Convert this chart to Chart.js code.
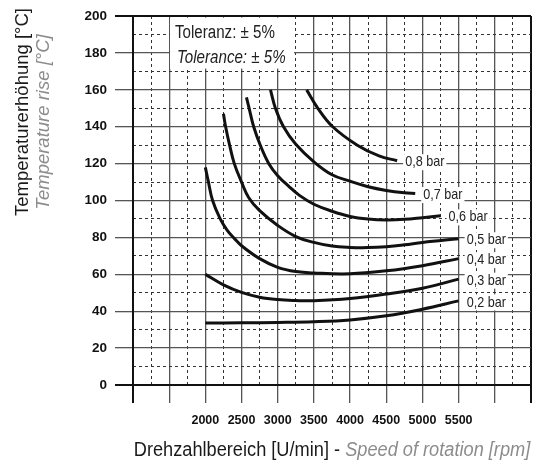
<!DOCTYPE html>
<html>
<head>
<meta charset="utf-8">
<script src="https://cdn.jsdelivr.net/npm/chart.js@4.4.1/dist/chart.umd.min.js"></script>
<style>
    body { margin: 0; background: #fff; }
    #wrap { width: 541px; height: 464px; }
</style>
</head>
<body>
<div id="wrap"><canvas id="myChart" width="541" height="464"></canvas></div>
<script>
// values (rpm -> temperature rise in °C)
const pressureLabels = ['0,2 bar', '0,3 bar', '0,4 bar', '0,5 bar', '0,6 bar', '0,7 bar', '0,8 bar'];

const rpm02 = [2000, 2500, 3000, 3500, 4000, 4500, 5000, 5500];
const temp02 = [33.6, 33.7, 33.9, 34.3, 35.3, 37.5, 41.1, 45.6];

const rpm03 = [2000, 2250, 2500, 2750, 3000, 3250, 3500, 4000, 4500, 5000, 5500];
const temp03 = [60, 54.3, 50.2, 47.6, 46.3, 45.8, 45.7, 46.9, 49.3, 52.5, 57.4];

const rpm04 = [2000, 2040, 2100, 2200, 2300, 2400, 2500, 2750, 3000, 3250, 3500, 4000, 4500, 5000, 5500];
const temp04 = [118, 110.5, 100, 90.5, 84, 79.5, 75.5, 68.5, 63.8, 61.5, 60.7, 60.3, 61.9, 64.7, 68.5];

const rpm05 = [2250, 2280, 2335, 2400, 2500, 2600, 2750, 3000, 3250, 3500, 3750, 4000, 4250, 4500, 4750, 5000, 5500];
const temp05 = [147, 140, 130, 120, 110, 101.5, 94.5, 86.5, 80.5, 77.3, 75.3, 74.6, 74.5, 75, 76, 77.3, 79.3];

const rpm06 = [2568, 2605, 2668, 2759, 2877, 3000, 3150, 3300, 3500, 3750, 4000, 4250, 4500, 4750, 5000, 5250];
const temp06 = [155.9, 150, 140, 130, 120, 113.5, 107.8, 102.8, 98, 94.2, 91.4, 90, 89.5, 89.8, 90.7, 91.7];

const rpm07 = [2900, 2968, 3080, 3250, 3500, 3750, 4000, 4250, 4500, 4750, 4900];
const temp07 = [160, 150, 140, 130.5, 121, 114, 110.5, 107.5, 105.5, 104.2, 103.8];

const rpm08 = [3400, 3555, 3760, 4100, 4400, 4650];
const temp08 = [160, 150, 140, 130, 124.2, 121.6];

const xTickLabels = [2000, 2500, 3000, 3500, 4000, 4500, 5000, 5500];
const yTickLabels = [0, 20, 40, 60, 80, 100, 120, 140, 160, 180, 200];

const SANS = '"Liberation Sans", Arial, sans-serif';

function toPoints(xs, ys) {
    return xs.map((x, i) => ({ x: x, y: ys[i] }));
}

// the original uses a condensed face: squeeze Liberation Sans horizontally
function narrowText(ctx, text, x, y, font, color, sx, rotated, align) {
    ctx.save();
    ctx.translate(x, y);
    if (rotated) ctx.rotate(-Math.PI / 2);
    ctx.scale(sx, 1);
    ctx.font = font;
    ctx.fillStyle = color;
    ctx.textAlign = align || 'left';
    ctx.fillText(text, 0, 0);
    ctx.restore();
}

function narrowWidth(ctx, text, font, sx) {
    ctx.save();
    ctx.font = font;
    const w = ctx.measureText(text).width * sx;
    ctx.restore();
    return w;
}

const series = [
    [rpm02, temp02], [rpm03, temp03], [rpm04, temp04], [rpm05, temp05],
    [rpm06, temp06], [rpm07, temp07], [rpm08, temp08]
];

let LineData = {
    datasets: series.map((s, i) => ({
        label: pressureLabels[i],
        data: toPoints(s[0], s[1]),
        borderColor: '#111',
        borderWidth: 3,
        pointRadius: 0,
        fill: false,
        tension: 0.4,
        xAxisID: 'x',
        yAxisID: 'y'
    }))
};

const annotations = {
    id: 'annotations',
    beforeDatasetsDraw(chart) {
        const { ctx, chartArea } = chart;
        ctx.save();
        ctx.fillStyle = '#fff';
        ctx.fillRect(chartArea.left + 37, chartArea.top + 1.5, 124, 51);
        ctx.textBaseline = 'middle';
        narrowText(ctx, 'Toleranz: ± 5%', chartArea.left + 42, chartArea.top + 17, '18px ' + SANS, '#222', 0.84);
        narrowText(ctx, 'Tolerance: ± 5%', chartArea.left + 44, chartArea.top + 42, 'italic 18px ' + SANS, '#222', 0.84);
        ctx.restore();
    },
    afterDatasetsDraw(chart) {
        const ctx = chart.ctx;
        const font = '15px ' + SANS;
        ctx.save();
        ctx.textBaseline = 'middle';
        chart.data.datasets.forEach((ds, i) => {
            const meta = chart.getDatasetMeta(i);
            const last = meta.data[meta.data.length - 1];
            const w = narrowWidth(ctx, ds.label, font, 0.84);
            const x = last.x + 8;
            const y = last.y + 1.5;
            ctx.fillStyle = '#fff';
            ctx.fillRect(x - 2, y - 8, w + 4, 16);
            narrowText(ctx, ds.label, x, y, font, '#222', 0.84);
        });
        ctx.restore();
    },
    afterDraw(chart) {
        const { ctx, chartArea } = chart;
        ctx.save();
        ctx.textBaseline = 'alphabetic';
        // y axis title, two lines
        narrowText(ctx, 'Temperaturerhöhung [°C]', 28, 112, '18.5px ' + SANS, '#1a1a1a', 1, true, 'center');
        narrowText(ctx, 'Temperature rise [°C]', 48.5, 122, 'italic 18.5px ' + SANS, '#8c8c8c', 1, true, 'center');

        // x axis title, black + grey italic
        const part1 = 'Drehzahlbereich [U/min] - ';
        const part2 = 'Speed of rotation [rpm]';
        const f1 = '20px ' + SANS;
        const f2 = 'italic 20px ' + SANS;
        const w1 = narrowWidth(ctx, part1, f1, 0.91);
        const w2 = narrowWidth(ctx, part2, f2, 0.91);
        const startX = (chartArea.left + chartArea.right) / 2 - (w1 + w2) / 2;
        narrowText(ctx, part1, startX, 456, f1, '#1a1a1a', 0.91);
        narrowText(ctx, part2, startX + w1, 456, f2, '#8c8c8c', 0.91);
        ctx.restore();
    }
};

let canvas = document.getElementById('myChart');
let ctx = canvas.getContext('2d');

let myChart = new Chart(ctx, {
    type: 'line',
    data: LineData,
    plugins: [annotations],
    options: {
        responsive: false,
        animation: false,
        layout: {
            padding: { top: 16, right: 9, left: 0, bottom: 0 }
        },
        scales: {
            x: {
                type: 'linear',
                position: 'bottom',
                min: 1000,
                max: 6500,
                afterFit: (scale) => { scale.height = 79; },
                ticks: {
                    stepSize: 500,
                    autoSkip: false,
                    maxRotation: 0,
                    padding: 10,
                    color: '#111',
                    font: { size: 12.5, weight: 'bold', family: SANS },
                    callback: (value) => xTickLabels.includes(value) ? String(value) : ''
                },
                grid: {
                    color: (c) => (c.tick && (c.tick.value === 1000 || c.tick.value === 6500)) ? '#111' : '#555',
                    lineWidth: (c) => (c.tick && (c.tick.value === 1000 || c.tick.value === 6500)) ? 2 : 1.3,
                    tickLength: 18
                },
                border: { color: '#111', width: 2 }
            },
            x2: {
                type: 'linear',
                position: 'top',
                min: 1000,
                max: 6500,
                afterFit: (scale) => { scale.height = 0; },
                ticks: { display: false, stepSize: 250, autoSkip: false },
                grid: {
                    color: (c) => (c.tick && c.tick.value % 500 === 0) ? 'rgba(0,0,0,0)' : '#333',
                    lineWidth: 1,
                    drawTicks: false
                },
                border: { display: false, dash: [3, 3] }
            },
            y: {
                type: 'linear',
                position: 'left',
                min: 0,
                max: 200,
                afterFit: (scale) => { scale.width = 133; },
                ticks: {
                    stepSize: 20,
                    autoSkip: false,
                    padding: 8,
                    color: '#111',
                    font: { size: 13.5, weight: 'bold', family: SANS },
                    callback: (value) => yTickLabels.includes(value) ? String(value) : ''
                },
                grid: {
                    color: (c) => (c.tick && (c.tick.value === 0 || c.tick.value === 200)) ? '#111' : '#555',
                    lineWidth: (c) => (c.tick && (c.tick.value === 0 || c.tick.value === 200)) ? 2 : 1.3,
                    tickLength: 18
                },
                border: { color: '#111', width: 2 }
            },
            y2: {
                type: 'linear',
                position: 'right',
                min: 0,
                max: 200,
                afterFit: (scale) => { scale.width = 0; },
                ticks: { display: false, stepSize: 10, autoSkip: false },
                grid: {
                    color: (c) => (c.tick && c.tick.value % 20 === 0) ? 'rgba(0,0,0,0)' : '#333',
                    lineWidth: 1,
                    drawTicks: false
                },
                border: { display: false, dash: [3, 3] }
            }
        },
        plugins: {
            legend: { display: false },
            tooltip: { enabled: false }
        }
    }
});
</script>
</body>
</html>
